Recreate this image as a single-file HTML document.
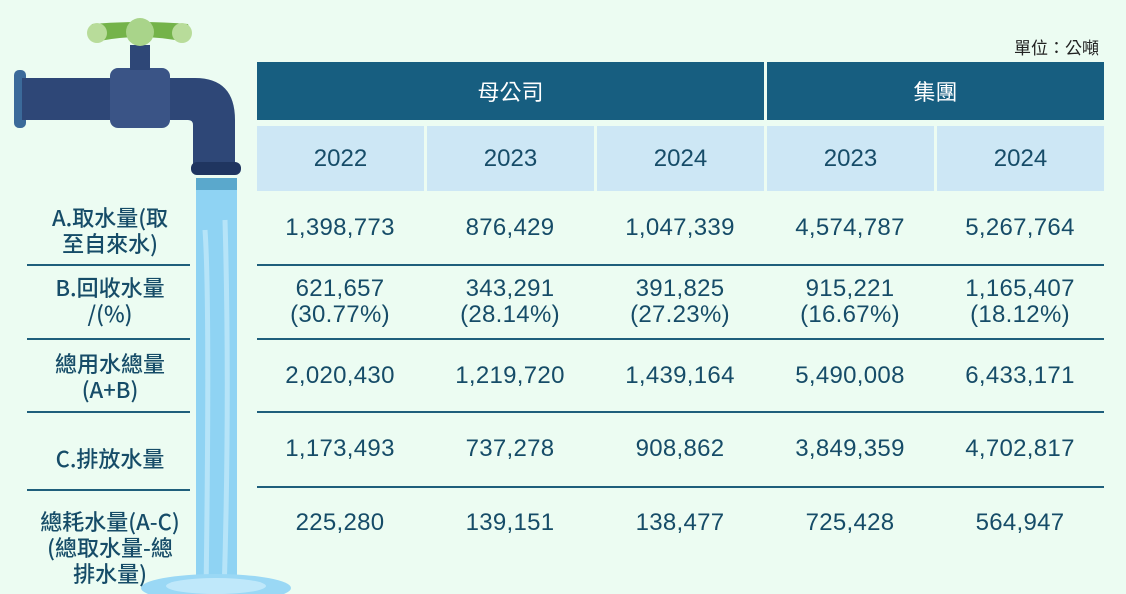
<!DOCTYPE html>
<html><head><meta charset="utf-8"><style>
body{margin:0;width:1126px;height:594px;background:#ecfcf2;position:relative;overflow:hidden;font-family:"Liberation Sans","Noto Sans CJK TC",sans-serif;color:#164c68}
.a{position:absolute}
.h1{background:#175e80;color:#fff;font-size:22px;display:flex;align-items:center;justify-content:center;top:62px;height:58px;font-family:"Noto Sans CJK TC",sans-serif}
.h2{background:#cde7f5;font-size:24px;display:flex;align-items:center;justify-content:center;top:126px;height:65px;width:167px}
.c{width:170px;text-align:center;font-size:24px;line-height:26px;letter-spacing:0.3px;transform:translateY(-50%)}
.l{left:18px;width:184px;text-align:center;font-size:22px;line-height:26px;font-family:"Noto Sans CJK TC",sans-serif;font-weight:500;transform:translateY(-50%)}
.ln{height:2px;background:#1f5f7c}
</style></head><body>
<div class="a" style="right:27px;top:34px;font-size:17px;color:#222;font-family:'Noto Sans CJK TC',sans-serif">單位：公噸</div>
<div class="a h1" style="left:257px;width:507px">母公司</div>
<div class="a h1" style="left:767px;width:337px">集團</div>
<div class="a h2" style="left:257px">2022</div>
<div class="a h2" style="left:427px">2023</div>
<div class="a h2" style="left:597px">2024</div>
<div class="a h2" style="left:767px">2023</div>
<div class="a h2" style="left:937px">2024</div>

<svg class="a" style="left:0;top:0" width="300" height="594">
<rect x="196" y="178" width="41" height="420" fill="#8fd3f3"/>
<rect x="196" y="178" width="41" height="12" fill="#5aa8cc"/>
<path d="M205 230 Q210 300 206 594 M225 220 Q230 400 224 594" stroke="#b6e4f8" stroke-width="5" fill="none"/>
<ellipse cx="216" cy="588" rx="75" ry="14" fill="#9ad8f5"/>
<ellipse cx="216" cy="586" rx="50" ry="8" fill="#bfe8fa"/>
<rect x="14" y="70" width="12" height="58" rx="5" fill="#3b6a9a"/>
<rect x="22" y="78" width="100" height="42" fill="#2e4777"/>
<path d="M160 78 H195 Q235 78 235 120 V165 H193 V125 Q193 120 188 120 H160Z" fill="#2e4777"/>
<rect x="110" y="68" width="60" height="60" rx="8" fill="#3a5486"/>
<rect x="130" y="45" width="20" height="25" fill="#2e4777"/>
<rect x="191" y="162" width="50" height="13" rx="6" fill="#1f3560"/>
<path d="M92 24 Q140 20 188 24 Q192 34 185 42 Q140 32 95 42 Q88 34 92 24Z" fill="#74b34a"/>
<circle cx="97" cy="33" r="10" fill="#b8dc9a"/>
<circle cx="182" cy="33" r="10" fill="#b8dc9a"/>
<circle cx="140" cy="32" r="14" fill="#a9d48a"/>
</svg>

<div class="a ln" style="left:27px;width:163px;top:264px"></div>
<div class="a ln" style="left:27px;width:163px;top:338px"></div>
<div class="a ln" style="left:27px;width:163px;top:411px"></div>
<div class="a ln" style="left:27px;width:163px;top:489px"></div>
<div class="a ln" style="left:257px;width:847px;top:264px"></div>
<div class="a ln" style="left:257px;width:847px;top:338px"></div>
<div class="a ln" style="left:257px;width:847px;top:411px"></div>
<div class="a ln" style="left:257px;width:847px;top:486px"></div>

<div class="a l" style="top:230px">A.取水量(取<br>至自來水)</div>
<div class="a l" style="top:300px">B.回收水量<br>/(%)</div>
<div class="a l" style="top:376px">總用水總量<br>(A+B)</div>
<div class="a l" style="top:458px">C.排放水量</div>
<div class="a l" style="top:547px">總耗水量(A-C)<br>(總取水量-總<br>排水量)</div>

<div class="a c" style="left:255px;top:228px">1,398,773</div>
<div class="a c" style="left:425px;top:228px">876,429</div>
<div class="a c" style="left:595px;top:228px">1,047,339</div>
<div class="a c" style="left:765px;top:228px">4,574,787</div>
<div class="a c" style="left:935px;top:228px">5,267,764</div>

<div class="a c" style="left:255px;top:302px">621,657<br>(30.77%)</div>
<div class="a c" style="left:425px;top:302px">343,291<br>(28.14%)</div>
<div class="a c" style="left:595px;top:302px">391,825<br>(27.23%)</div>
<div class="a c" style="left:765px;top:302px">915,221<br>(16.67%)</div>
<div class="a c" style="left:935px;top:302px">1,165,407<br>(18.12%)</div>

<div class="a c" style="left:255px;top:376px">2,020,430</div>
<div class="a c" style="left:425px;top:376px">1,219,720</div>
<div class="a c" style="left:595px;top:376px">1,439,164</div>
<div class="a c" style="left:765px;top:376px">5,490,008</div>
<div class="a c" style="left:935px;top:376px">6,433,171</div>

<div class="a c" style="left:255px;top:449px">1,173,493</div>
<div class="a c" style="left:425px;top:449px">737,278</div>
<div class="a c" style="left:595px;top:449px">908,862</div>
<div class="a c" style="left:765px;top:449px">3,849,359</div>
<div class="a c" style="left:935px;top:449px">4,702,817</div>

<div class="a c" style="left:255px;top:523px">225,280</div>
<div class="a c" style="left:425px;top:523px">139,151</div>
<div class="a c" style="left:595px;top:523px">138,477</div>
<div class="a c" style="left:765px;top:523px">725,428</div>
<div class="a c" style="left:935px;top:523px">564,947</div>
</body></html>
